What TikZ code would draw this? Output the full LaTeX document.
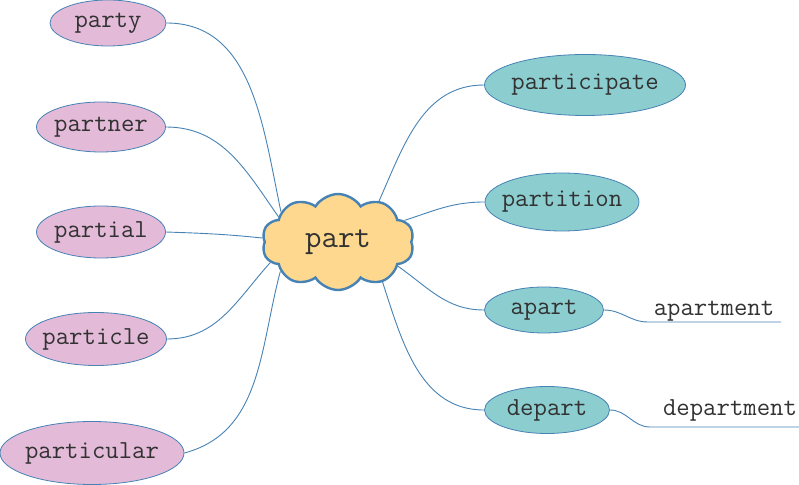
\documentclass[tikz,border=0pt]{standalone}
\usepackage{fontspec}
\usepackage{tikz}
\usetikzlibrary{shapes.geometric,shapes.symbols}

\definecolor{linkblue}{RGB}{70,130,180}
\definecolor{leafpink}{RGB}{227,186,216}
\definecolor{leafteal}{RGB}{140,205,208}
\definecolor{cloudfill}{RGB}{253,216,142}
\definecolor{wordgray}{RGB}{50,50,50}

\tikzset{
    word/.style = {text=wordgray, font=\ttfamily\fontsize{26}{30}\selectfont},
    leaf/.style = {ellipse, draw=linkblue, line width=0.8pt, inner ysep=0pt, inner xsep=-40pt, word},
    pinkleaf/.style = {leaf, fill=leafpink},
    tealleaf/.style = {leaf, fill=leafteal},
    link/.style = {draw=linkblue, line width=0.9pt}
}

\begin{document}
\begin{tikzpicture}[x=1pt, y=1pt]
    \useasboundingbox (0,0) rectangle (799,484);

    % Root word
    \node[cloud, cloud puffs=10, cloud puff arc=115, aspect=1.6, draw=linkblue, line width=2.4pt,
          fill=cloudfill, inner sep=0pt, minimum width=152pt, minimum height=96pt,
          text=wordgray, font=\ttfamily\fontsize{32}{36}\selectfont] (part) at (338,242) {part};

    % Left branch
    \node[pinkleaf, minimum width=116pt, minimum height=46pt] (party) at (108,461) {party};
    \node[pinkleaf, minimum width=129pt, minimum height=50pt] (partner) at (101,357) {partner};
    \node[pinkleaf, minimum width=129pt, minimum height=52pt] (partial) at (101,252) {partial};
    \node[pinkleaf, minimum width=141pt, minimum height=53pt] (particle) at (96,145) {particle};
    \node[pinkleaf, minimum width=184pt, minimum height=63pt] (particular) at (92,31) {particular};

    % Right branch
    \node[tealleaf, minimum width=201pt, minimum height=61pt] (participate) at (585,399) {participate};
    \node[tealleaf, minimum width=154pt, minimum height=58pt] (partition) at (562,282) {partition};
    \node[tealleaf, minimum width=119pt, minimum height=46pt] (apart) at (544,174) {apart};
    \node[tealleaf, minimum width=125pt, minimum height=47pt] (depart) at (547,74) {depart};

    % Derived words on a line
    \coordinate (apartL) at (648,162);
    \coordinate (apartR) at (781,162);
    \coordinate (departL) at (650,57);
    \coordinate (departR) at (799,57);
    \node[word, anchor=base] (apartment) at (714,168) {apartment};
    \node[word, anchor=base] (department) at (730,69) {department};

    % Links
    \draw[link] (party.east) to[out=0, in=102] (part.152);
    \draw[link] (partner.east) to[out=0, in=125] (part.157);
    \draw[link] (partial.east) to[out=-2, in=174] (part.177);
    \draw[link] (particle.east) to[out=0, in=228] (part.197);
    \draw[link] (particular.east) to[out=15, in=255] (part.207);
    \draw[link] (participate.west) to[out=180, in=66] (part.45);
    \draw[link] (partition.west) to[out=180, in=18] (part.18);
    \draw[link] (apart.west) to[out=180, in=-35] (part.-22);
    \draw[link] (depart.west) to[out=180, in=-72] (part.-42);
    \draw[link] (apart.east) to[out=0, in=180] (apartL) -- (apartR);
    \draw[link] (depart.east) to[out=0, in=180] (departL) -- (departR);

\end{tikzpicture}
\end{document}
